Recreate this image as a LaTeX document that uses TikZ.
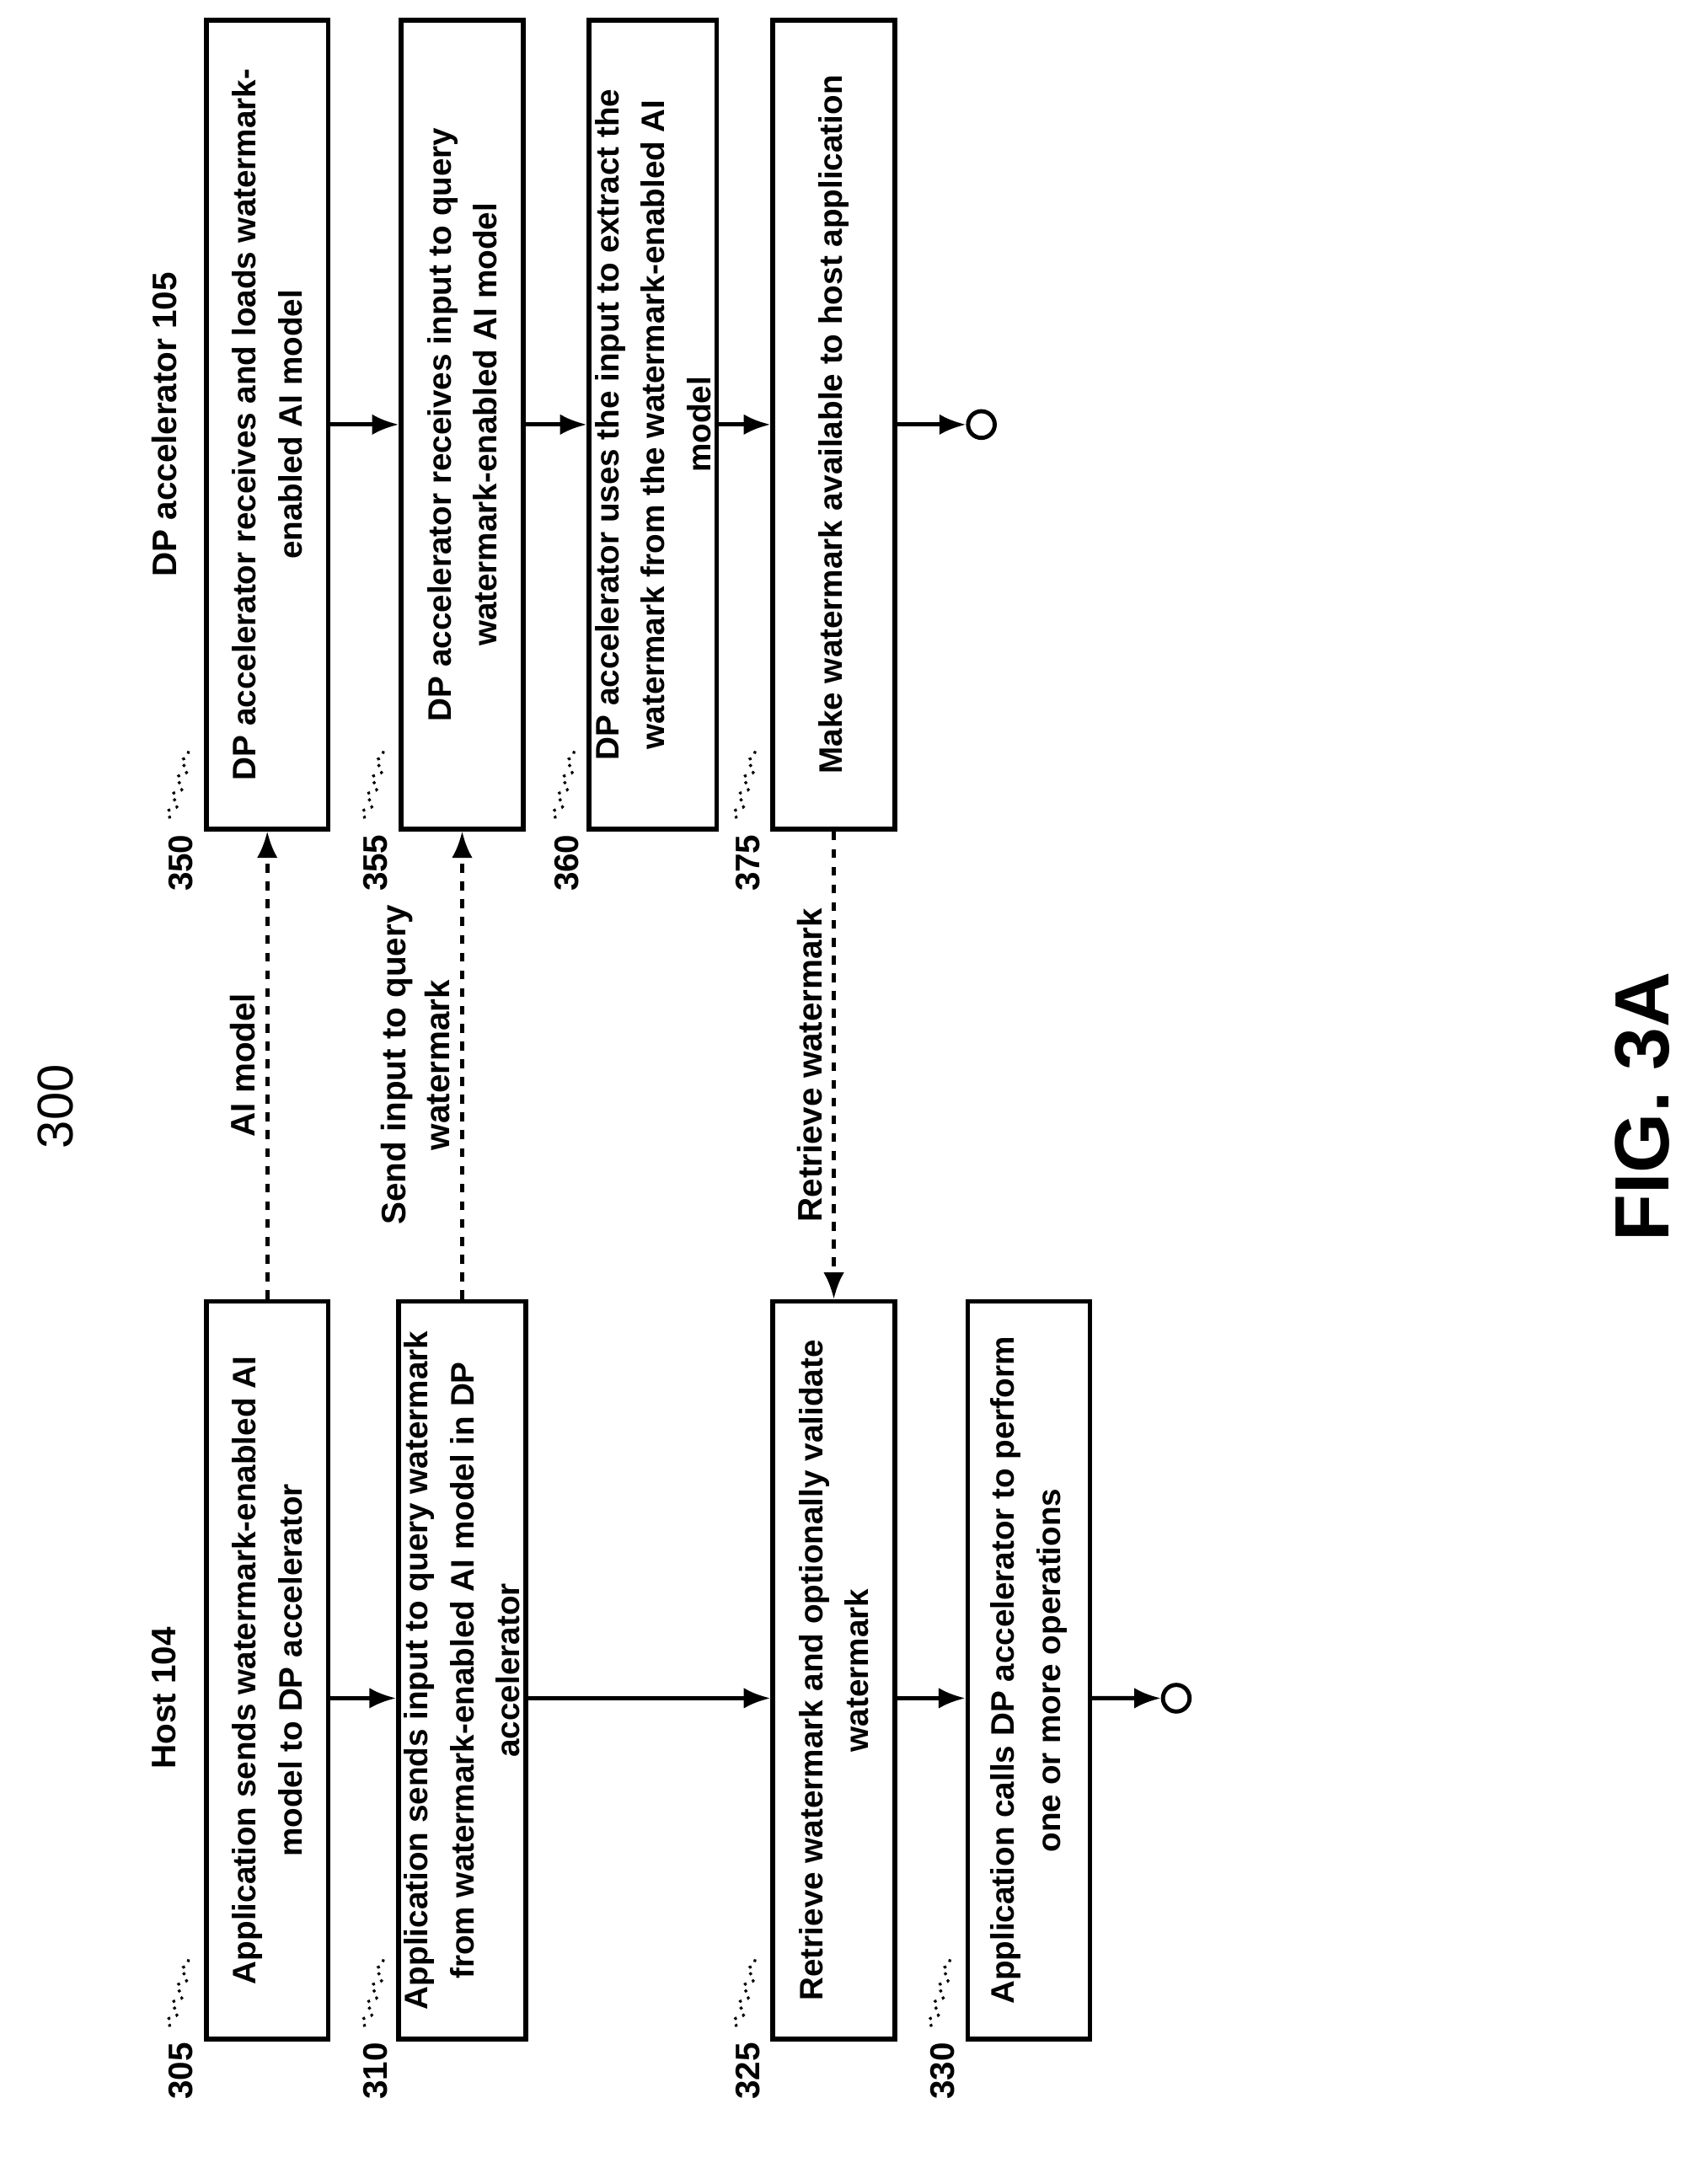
\documentclass[tikz,border=0pt]{standalone}
\usepackage{fontspec}
\setmainfont{Liberation Sans}
\usetikzlibrary{arrows.meta,decorations.pathmorphing}
\begin{document}
\begin{tikzpicture}[x=0.01652cm,y=-0.01652cm,
  box/.style={draw,line width=1.6pt,rotate=90,minimum height=1.45cm,align=center,font=\bfseries\fontsize{11}{15.5}\selectfont,inner sep=2pt},
  hbox/.style={box,minimum width=8.76cm},
  dbox/.style={box,minimum width=9.6cm},
  ar/.style={line width=1.4pt,-{Latex[length=9pt,width=7pt]}},
  dar/.style={line width=1.4pt,dashed,-{Latex[length=9pt,width=7pt]}},
  lbl/.style={rotate=90,font=\bfseries\fontsize{11.5}{15}\selectfont,align=center},
  num/.style={rotate=90,font=\bfseries\fontsize{11.5}{14}\selectfont},
  sq/.style={line width=0.9pt,dotted,decorate,decoration={snake,amplitude=1.5pt,segment length=6pt}},
  endc/.style={circle,draw,line width=1.4pt,minimum size=9pt,inner sep=0pt}]
\useasboundingbox (0,0) rectangle (1215,1569);
\node[hbox] (h305) at (192,1200) {Application sends watermark-enabled AI\\model to DP accelerator};
\node[hbox] (h310) at (332,1200) {Application sends input to query watermark\\from watermark-enabled AI model in DP\\accelerator};
\node[hbox] (h325) at (599,1200) {Retrieve watermark and optionally validate\\watermark};
\node[hbox] (h330) at (739,1200) {Application calls DP accelerator to perform\\one or more operations};
\node[dbox] (d350) at (192,305) {DP accelerator receives and loads watermark-\\enabled AI model};
\node[dbox] (d355) at (332,305) {DP accelerator receives input to query\\watermark-enabled AI model};
\node[dbox] (d360) at (469,305) {DP accelerator uses the input to extract the\\watermark from the watermark-enabled AI\\model};
\node[dbox] (d375) at (599,305) {Make watermark available to host application};
\node[endc] (e1) at (845,1220) {};
\node[endc] (e2) at (705,305) {};
\draw[ar] ([yshift=-0.33cm]h305.south) -- ([yshift=-0.33cm]h310.north);
\draw[ar] ([yshift=-0.33cm]h310.south) -- ([yshift=-0.33cm]h325.north);
\draw[ar] ([yshift=-0.33cm]h325.south) -- ([yshift=-0.33cm]h330.north);
\draw[ar] ([yshift=-0.33cm]h330.south) -- (e1);
\draw[ar] (d350.south) -- (d355.north);
\draw[ar] (d355.south) -- (d360.north);
\draw[ar] (d360.south) -- (d375.north);
\draw[ar] (d375.south) -- (e2);
\draw[dar] (h305.east) -- node[lbl,above,pos=0.5] {AI model} (d350.west);
\draw[dar] (h310.east) -- node[lbl,above,pos=0.5] {Send input to query\\watermark} (d355.west);
\draw[dar] (d375.west) -- node[lbl,above,pos=0.5] {Retrieve watermark} (h325.east);
\node[lbl] (t1) at (118,1220) {Host 104};
\node[lbl] (t2) at (118,305) {DP accelerator 105};
\node[rotate=90,font=\fontsize{17}{20}\selectfont] (t300) at (40,795) {300};
\node[rotate=90,font=\bfseries\fontsize{26}{30}\selectfont] (fig) at (1180,795) {FIG. 3A};
\foreach \n/\x/\y in {305/130/1488,310/270/1488,325/537/1488,330/677/1488,350/130/620,355/270/620,360/407/620,375/537/620}{
  \node[num] (n\n) at (\x,\y) {\n};
  \draw[sq] (\x-8,\y-32) -- (\x+6,\y-82);
}
\end{tikzpicture}
\end{document}
